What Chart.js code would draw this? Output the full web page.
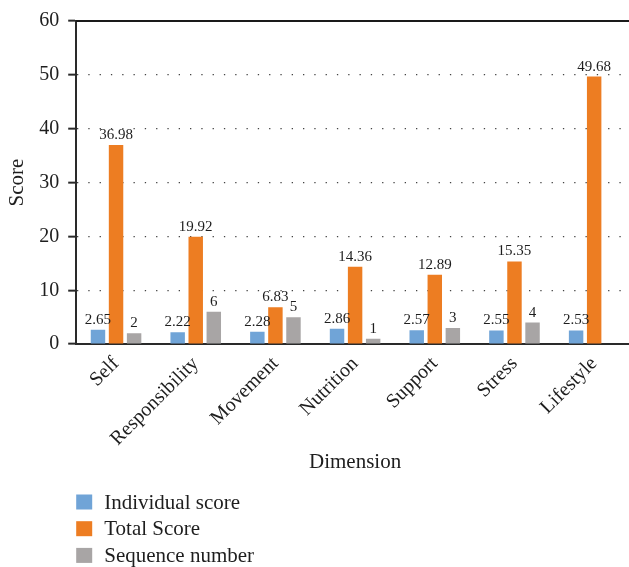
<!DOCTYPE html>
<html>
<head>
<meta charset="utf-8">
<script src="https://cdn.jsdelivr.net/npm/chart.js@4/dist/chart.umd.min.js"></script>
<style>
  html, body { margin: 0; padding: 0; background: #fff; overflow: hidden; }
  #wrap { width: 640px; height: 567px; }
</style>
</head>
<body>
<div id="wrap"><canvas id="c" width="640" height="567"></canvas></div>
<script>
const categories = ['Self', 'Responsibility', 'Movement', 'Nutrition', 'Support', 'Stress', 'Lifestyle'];
const individualScore = [2.65, 2.22, 2.28, 2.86, 2.57, 2.55, 2.53];
const totalScore = [36.98, 19.92, 6.83, 14.36, 12.89, 15.35, 49.68];
const sequenceNumber = [2, 6, 5, 1, 3, 4, null];
const yTicks = [0, 10, 20, 30, 40, 50, 60];

const FONT = "'Liberation Serif', 'Times New Roman', serif";
const TEXT = '#1e1e1e';

// Value printed above every bar
const barValues = {
  id: 'barValues',
  afterDatasetsDraw(chart) {
    const ctx = chart.ctx;
    ctx.save();
    ctx.font = '15px ' + FONT;
    ctx.fillStyle = TEXT;
    ctx.textAlign = 'center';
    ctx.textBaseline = 'alphabetic';
    chart.data.datasets.forEach((ds, di) => {
      const meta = chart.getDatasetMeta(di);
      meta.data.forEach((bar, i) => {
        const v = ds.data[i];
        if (v === null || v === undefined) return;
        ctx.fillText(String(v), bar.x, bar.y - 6);
      });
    });
    ctx.restore();
  }
};

// Solid frame line at the top of the value axis
const topLine = {
  id: 'topLine',
  afterDraw(chart) {
    const y = chart.scales.y;
    const py = y.getPixelForValue(y.max);
    const ctx = chart.ctx;
    ctx.save();
    ctx.strokeStyle = '#1a1a1a';
    ctx.lineWidth = 2;
    ctx.beginPath();
    ctx.moveTo(chart.chartArea.left, py);
    ctx.lineTo(chart.width, py);
    ctx.stroke();
    ctx.restore();
  }
};

// Legend stacked in one column under the axis title
const columnLegend = {
  id: 'columnLegend',
  afterDraw(chart) {
    const ctx = chart.ctx;
    const left = chart.chartArea.left;
    const firstRow = 502, rowGap = 26.7;
    ctx.save();
    ctx.font = '21px ' + FONT;
    ctx.textBaseline = 'middle';
    ctx.textAlign = 'left';
    chart.data.datasets.forEach((ds, i) => {
      const cy = firstRow + i * rowGap;
      ctx.fillStyle = ds.backgroundColor;
      ctx.fillRect(left, cy - 7.5, 16, 15);
      ctx.fillStyle = TEXT;
      ctx.fillText(ds.label, left + 28, cy + 1);
    });
    ctx.restore();
  }
};

new Chart(document.getElementById('c'), {
  type: 'bar',
  data: {
    labels: categories,
    datasets: [
      { label: 'Individual score', data: individualScore, backgroundColor: '#70a4d7' },
      { label: 'Total Score', data: totalScore, backgroundColor: '#ed7d22' },
      { label: 'Sequence number', data: sequenceNumber, backgroundColor: '#a8a5a5' }
    ]
  },
  options: {
    responsive: false,
    animation: false,
    devicePixelRatio: 1,
    categoryPercentage: 0.68,
    barPercentage: 0.8,
    layout: { padding: { top: 12, right: 6, bottom: 92, left: 1 } },
    plugins: {
      legend: { display: false },
      tooltip: { enabled: false }
    },
    scales: {
      x: {
        afterFit(scale) { scale.height -= 3; },
        grid: { display: false },
        border: { display: true, color: '#2a2a2a', width: 2 },
        ticks: {
          minRotation: 45, maxRotation: 45, autoSkip: false,
          color: TEXT, font: { family: FONT, size: 20 }, padding: 0
        },
        title: {
          display: true, text: 'Dimension', color: TEXT,
          font: { family: FONT, size: 21 }, padding: { top: 2, bottom: 0 }
        }
      },
      y: {
        min: 0, max: 60,
        afterBuildTicks(scale) { scale.ticks = yTicks.map(v => ({ value: v })); },
        grid: {
          color: '#444', lineWidth: 1.3,
          tickLength: 8, tickColor: '#2a2a2a', tickWidth: 2, tickBorderDash: []
        },
        border: { display: true, color: '#2a2a2a', width: 2, dash: [1.3, 10] },
        ticks: { color: TEXT, font: { family: FONT, size: 20 }, padding: 9 },
        title: {
          display: true, text: 'Score', color: TEXT,
          font: { family: FONT, size: 21 }, padding: { top: 4, bottom: 0 }
        }
      }
    }
  },
  plugins: [barValues, topLine, columnLegend]
});
</script>
</body>
</html>
